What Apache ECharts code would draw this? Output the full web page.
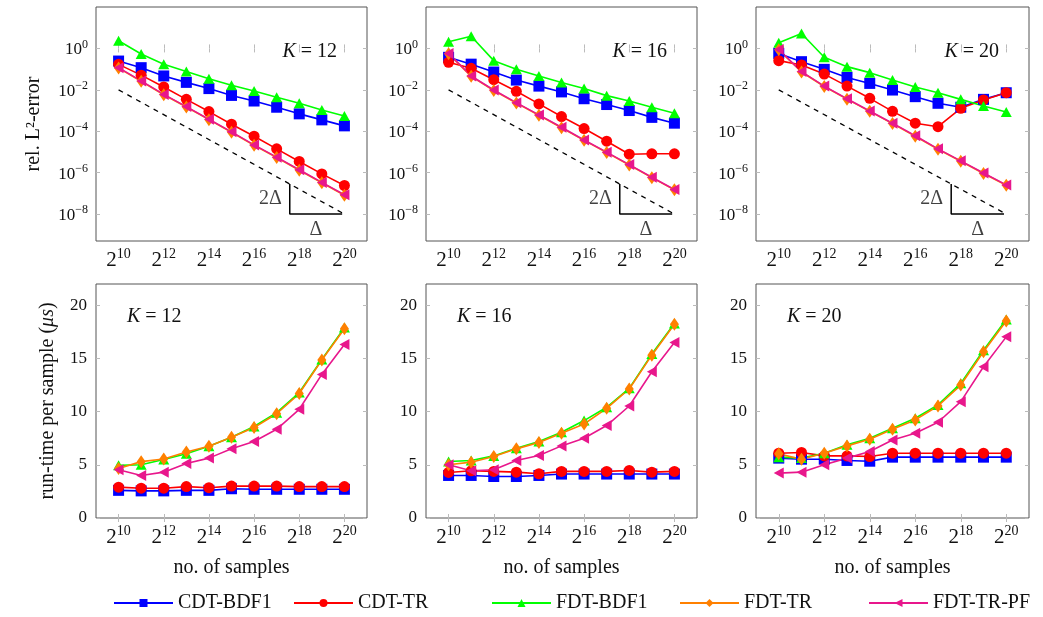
<!DOCTYPE html>
<html>
<head>
<meta charset="utf-8">
<script src="https://cdn.jsdelivr.net/npm/echarts@6/dist/echarts.min.js"></script>
<style>
  html, body { margin: 0; padding: 0; background: #fff; }
  #chart { width: 1043px; height: 617px; }
</style>
</head>
<body>
<div id="chart"></div>
<script>
// sample counts are 2^e
const sampleExps = [10, 11, 12, 13, 14, 15, 16, 17, 18, 19, 20];
const methods = ["CDT-BDF1", "CDT-TR", "FDT-BDF1", "FDT-TR", "FDT-TR-PF"];
const kValues = [12, 16, 20];

// log10 of rel. L2-error, rows in method order
const errK12 = [
  [-0.61, -0.93, -1.33, -1.64, -1.94, -2.27, -2.54, -2.84, -3.16, -3.45, -3.74],
  [-0.77, -1.29, -1.86, -2.46, -3.05, -3.66, -4.24, -4.85, -5.46, -6.06, -6.62],
  [0.37, -0.27, -0.76, -1.12, -1.46, -1.78, -2.06, -2.36, -2.65, -2.97, -3.26],
  [-0.95, -1.59, -2.24, -2.83, -3.44, -4.05, -4.68, -5.27, -5.88, -6.49, -7.09],
  [-0.93, -1.57, -2.22, -2.81, -3.42, -4.03, -4.66, -5.25, -5.86, -6.47, -7.07],
];
const errK16 = [
  [-0.43, -0.76, -1.14, -1.53, -1.82, -2.10, -2.43, -2.71, -3.00, -3.33, -3.61],
  [-0.67, -0.96, -1.51, -2.07, -2.68, -3.29, -3.87, -4.48, -5.11, -5.09, -5.09],
  [0.32, 0.59, -0.59, -1.01, -1.33, -1.65, -1.94, -2.28, -2.54, -2.84, -3.13],
  [-0.26, -1.35, -2.03, -2.64, -3.23, -3.83, -4.44, -5.03, -5.63, -6.24, -6.83],
  [-0.24, -1.33, -2.01, -2.62, -3.21, -3.81, -4.42, -5.01, -5.61, -6.22, -6.81],
];
const errK20 = [
  [-0.24, -0.64, -1.01, -1.40, -1.69, -2.01, -2.33, -2.65, -2.84, -2.46, -2.14],
  [-0.59, -0.80, -1.24, -1.82, -2.41, -3.04, -3.61, -3.78, -2.89, -2.49, -2.14],
  [0.27, 0.72, -0.43, -0.88, -1.17, -1.53, -1.86, -2.14, -2.46, -2.78, -3.07],
  [-0.07, -1.14, -1.84, -2.45, -3.04, -3.63, -4.24, -4.87, -5.45, -6.04, -6.61],
  [-0.05, -1.12, -1.82, -2.43, -3.02, -3.61, -4.22, -4.85, -5.43, -6.02, -6.59],
];

// run-time per sample in microseconds
const timeK12 = [
  [2.6, 2.55, 2.55, 2.6, 2.6, 2.75, 2.7, 2.7, 2.7, 2.7, 2.7],
  [2.9, 2.8, 2.8, 2.95, 2.85, 3.0, 3.0, 3.0, 2.95, 2.95, 2.95],
  [4.95, 5.0, 5.5, 6.05, 6.75, 7.6, 8.6, 9.9, 11.8, 14.9, 17.9],
  [4.65, 5.3, 5.55, 6.2, 6.75, 7.6, 8.5, 9.8, 11.7, 14.85, 17.8],
  [4.53, 4.0, 4.31, 5.13, 5.63, 6.5, 7.19, 8.34, 10.22, 13.5, 16.31],
];
const timeK16 = [
  [4.0, 4.0, 3.9, 3.9, 4.0, 4.13, 4.13, 4.13, 4.13, 4.13, 4.13],
  [4.28, 4.44, 4.38, 4.31, 4.16, 4.38, 4.38, 4.38, 4.47, 4.31, 4.38],
  [5.31, 5.41, 5.84, 6.56, 7.19, 8.06, 9.16, 10.41, 12.19, 15.41, 18.28],
  [5.0, 5.25, 5.78, 6.5, 7.09, 7.97, 8.84, 10.31, 12.13, 15.31, 18.22],
  [5.0, 4.44, 4.53, 5.41, 5.88, 6.78, 7.5, 8.69, 10.53, 13.75, 16.5],
];
const timeK20 = [
  [5.63, 5.53, 5.53, 5.41, 5.34, 5.72, 5.72, 5.72, 5.72, 5.72, 5.72],
  [6.09, 6.16, 5.84, 5.84, 5.78, 6.09, 6.09, 6.09, 6.09, 6.09, 6.09],
  [5.72, 5.63, 6.09, 6.88, 7.5, 8.44, 9.38, 10.63, 12.66, 15.78, 18.66],
  [6.03, 5.53, 6.09, 6.78, 7.41, 8.34, 9.22, 10.53, 12.5, 15.63, 18.53],
  [4.22, 4.31, 5.0, 5.63, 6.25, 7.34, 7.97, 9.0, 10.94, 14.22, 17.03],
];

// tick labels
const xTickExps = [10, 12, 14, 16, 18, 20];
const errTickExps = [-8, -6, -4, -2, 0];
const timeTicks = [0, 5, 10, 15, 20];

// slope marker: dashed reference line and the 2Δ / Δ triangle (log10 space)
const refLine = [[10, -2], [19.9, -7.94]];
const slopeTri = [[17.58, -6.55], [17.58, -8], [19.9, -8]];
const slopeLabels = [["2Δ", 17.58, -7.27], ["Δ", 18.74, -8]];

const errData = [errK12, errK16, errK20];
const timeData = [timeK12, timeK16, timeK20];

const colors = ["#0000ff", "#ff0000", "#00ff00", "#ff8000", "#e8178c"];
const symbols = ["rect", "circle", "triangle", "diamond", "triangle"];
const symbolSizes = [11, 11, [11, 10], [9, 13], [11, 10]];
const symbolRotates = [0, 0, 0, 0, 90];

const serif = "Liberation Serif";
const gridLefts = [96, 426, 756];
const gridWidths = [271, 271, 273];
const gridTops = [7, 284];
const gridHeight = 234;
const legendLefts = [113, 293, 491, 679, 868];

const chart = echarts.init(document.getElementById("chart"));

const tickStyle = { inside: true, length: 4, lineStyle: { color: "#bbb", width: 1 } };
const supRich = (base, sup) => ({
  b: { fontFamily: serif, fontSize: base, color: "#111", lineHeight: base + 3, verticalAlign: "bottom" },
  s: { fontFamily: serif, fontSize: sup, color: "#111", lineHeight: sup, verticalAlign: "top" },
});

let grid = [], xAxis = [], yAxis = [], series = [], title = [];

for (let row = 0; row < 2; row++) {
  for (let col = 0; col < 3; col++) {
    const i = row * 3 + col;
    grid.push({
      left: gridLefts[col], top: gridTops[row], width: gridWidths[col], height: gridHeight,
      show: true, borderColor: "#555", borderWidth: 1,
    });

    xAxis[i] = {
      type: "value", gridIndex: i, min: 9, max: 21,
      axisLine: { show: false }, splitLine: { show: false },
      axisTick: Object.assign({ customValues: xTickExps }, tickStyle),
      axisLabel: {
        customValues: xTickExps, margin: 6,
        formatter: (v) => "{b|2}{s|" + v + "}",
        rich: supRich(21, 14),
      },
      name: row === 1 ? "no. of samples" : "",
      nameLocation: "middle", nameGap: 40,
      nameTextStyle: { fontFamily: serif, fontSize: 20, color: "#111" },
    };
    xAxis[6 + i] = {
      type: "value", gridIndex: i, min: 9, max: 21, position: "top",
      axisLine: { show: false }, splitLine: { show: false },
      axisTick: Object.assign({ customValues: xTickExps }, tickStyle),
      axisLabel: { show: false },
    };

    const yTicks = row === 0 ? errTickExps : timeTicks;
    yAxis[i] = {
      type: "value", gridIndex: i,
      min: row === 0 ? -9.3 : 0, max: row === 0 ? 2 : 22,
      axisLine: { show: false }, splitLine: { show: false },
      axisTick: Object.assign({ customValues: yTicks }, tickStyle),
      axisLabel: row === 0 ? {
        customValues: yTicks, margin: 8,
        formatter: (v) => "{b|10}{s|" + (v < 0 ? "\u2212" + (-v) : v) + "}",
        rich: supRich(17, 12),
      } : {
        customValues: yTicks, margin: 9,
        fontFamily: serif, fontSize: 17, color: "#111",
      },
    };
    if (col === 0) {
      yAxis[i].name = row === 0 ? "rel. L²-error" : "run-time per sample ({i|μs})";
      yAxis[i].nameLocation = "middle";
      yAxis[i].nameGap = row === 0 ? 52 : 38;
      yAxis[i].nameTextStyle = {
        fontFamily: serif, fontSize: 20, color: "#111",
        rich: { i: { fontFamily: serif, fontSize: 20, fontStyle: "italic", color: "#111" } },
      };
    }
    yAxis[6 + i] = {
      type: "value", gridIndex: i, position: "right",
      min: row === 0 ? -9.3 : 0, max: row === 0 ? 2 : 22,
      axisLine: { show: false }, splitLine: { show: false },
      axisTick: Object.assign({ customValues: yTicks }, tickStyle),
      axisLabel: { show: false },
    };

    const kTitle = {
      text: "{i|K} = " + kValues[col],
      padding: 0,
      textStyle: {
        fontFamily: serif, fontSize: 20, fontWeight: "normal", color: "#111",
        rich: { i: { fontFamily: serif, fontSize: 20, fontStyle: "italic", color: "#111" } },
      },
    };
    if (row === 0) {
      kTitle.right = 1043 - (gridLefts[col] + gridWidths[col]) + 30;
      kTitle.top = 42;
    } else {
      kTitle.left = gridLefts[col] + 31;
      kTitle.top = 307;
    }
    title.push(kTitle);

    const vals = row === 0 ? errData[col] : timeData[col];
    methods.forEach((m, j) => {
      series.push({
        name: m, type: "line", xAxisIndex: i, yAxisIndex: i,
        data: sampleExps.map((e, k) => [e, vals[j][k]]),
        symbol: symbols[j], symbolSize: symbolSizes[j], symbolRotate: symbolRotates[j],
        showAllSymbol: true,
        lineStyle: { color: colors[j], width: 1.6 },
        itemStyle: { color: colors[j] },
        emphasis: { disabled: true },
        animation: false,
      });
    });

    if (row === 0) {
      series.push({
        type: "line", xAxisIndex: i, yAxisIndex: i, data: refLine, symbol: "none",
        lineStyle: { color: "#000", width: 1.3, type: [5, 5] }, silent: true, animation: false,
      });
      series.push({
        type: "line", xAxisIndex: i, yAxisIndex: i, data: slopeTri, symbol: "none",
        lineStyle: { color: "#000", width: 1.5 }, silent: true, animation: false,
      });
      series.push({
        type: "scatter", xAxisIndex: i, yAxisIndex: i, symbolSize: 0, silent: true, animation: false,
        data: slopeLabels.map((s, k) => ({
          value: [s[1], s[2]],
          label: {
            show: true, formatter: s[0], position: k === 0 ? "left" : "bottom",
            distance: k === 0 ? 8 : 6,
            fontFamily: serif, fontSize: 20, color: "#111",
          },
        })),
      });
    }
  }
}

const legend = methods.map((m, j) => ({
  data: [m], left: legendLefts[j], top: 593, padding: 0,
  itemWidth: 59, itemHeight: 10, selectedMode: false,
  textStyle: { fontFamily: serif, fontSize: 20, color: "#111" },
}));

chart.setOption({
  backgroundColor: "#fff",
  animation: false,
  title: title,
  legend: legend,
  grid: grid,
  xAxis: xAxis,
  yAxis: yAxis,
  series: series,
});
</script>
</body>
</html>
